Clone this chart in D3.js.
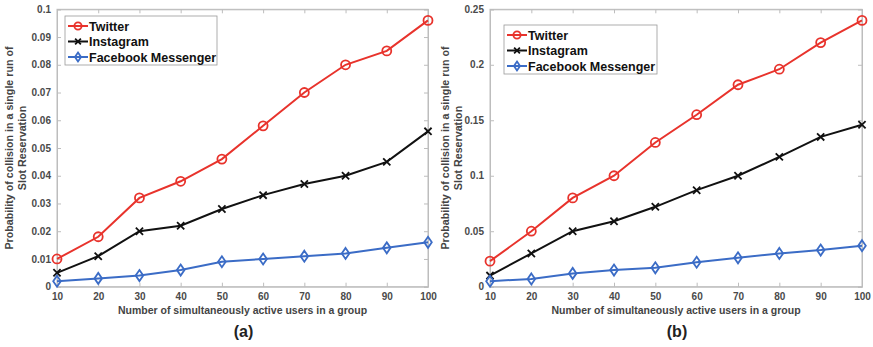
<!DOCTYPE html>
<html><head><meta charset="utf-8">
<script src="https://cdn.jsdelivr.net/npm/d3@7"></script>
<style>
body{margin:0;background:#fff;}
svg{display:block;font-family:"Liberation Sans",Arial,sans-serif;}
</style></head>
<body><svg id="c" width="873" height="347"></svg>
<script>
const xValues = [10,20,30,40,50,60,70,80,90,100];
const seriesNames = ["Twitter","Instagram","Facebook Messenger"];
const twitterA = [0.010,0.018,0.032,0.038,0.046,0.058,0.070,0.080,0.085,0.096];
const instagramA = [0.005,0.011,0.020,0.022,0.028,0.033,0.037,0.040,0.045,0.056];
const messengerA = [0.002,0.003,0.004,0.006,0.009,0.010,0.011,0.012,0.014,0.016];
const twitterB = [0.023,0.050,0.080,0.100,0.130,0.155,0.182,0.196,0.220,0.240];
const instagramB = [0.010,0.030,0.050,0.059,0.072,0.087,0.100,0.117,0.135,0.146];
const messengerB = [0.005,0.007,0.012,0.015,0.017,0.022,0.026,0.030,0.033,0.037];
const yTicksA = [0,0.01,0.02,0.03,0.04,0.05,0.06,0.07,0.08,0.09,0.1];
const yTicksB = [0,0.05,0.1,0.15,0.2,0.25];
const xLabel = "Number of simultaneously active users in a group";
const yLabel1 = "Probability of collision in a single run of";
const yLabel2 = "Slot Reservation";
const colors = ["#e8332c","#111111","#3b6cc6"];

const svg = d3.select("#c");

function panel(opt){
  const {x0,x1,yTop,yBot,yMax,yTicks,data,legend,ylabX,tag} = opt;
  const x = d3.scaleLinear().domain([10,100]).range([x0,x1]);
  const y = d3.scaleLinear().domain([0,yMax]).range([yBot,yTop]);
  const g = svg.append("g");
  g.append("rect").attr("x",x0).attr("y",yTop).attr("width",x1-x0).attr("height",yBot-yTop)
    .attr("fill","none").attr("stroke","#bdbdbd").attr("stroke-width",1);
  const fmt = v => v===0 ? "0" : String(+v.toFixed(3));
  const xa = g.append("g").attr("transform",`translate(0,${yBot})`)
    .call(d3.axisBottom(x).tickValues(xValues).tickSize(-4).tickPadding(6));
  const ya = g.append("g").attr("transform",`translate(${x0},0)`)
    .call(d3.axisLeft(y).tickValues(yTicks).tickFormat(fmt).tickSize(-4).tickPadding(6));
  const xt = g.append("g").attr("transform",`translate(0,${yTop})`)
    .call(d3.axisTop(x).tickValues(xValues).tickSize(-4).tickFormat(""));
  const yr = g.append("g").attr("transform",`translate(${x1},0)`)
    .call(d3.axisRight(y).tickValues(yTicks).tickSize(-4).tickFormat(""));
  [xa,ya,xt,yr].forEach(a=>{
    a.select(".domain").attr("stroke","#bdbdbd");
    a.selectAll(".tick line").attr("stroke","#bdbdbd");
    a.selectAll("text").attr("font-size",10).attr("font-weight","bold").attr("fill","#4a4a4a")
      .attr("font-family","'Liberation Sans',Arial,sans-serif");
  });
  const line = d3.line().x((d,i)=>x(xValues[i])).y(d=>y(d));
  data.forEach((vals,si)=>{
    g.append("path").datum(vals).attr("d",line).attr("fill","none")
      .attr("stroke",colors[si]).attr("stroke-width",2);
    const m = g.selectAll(null).data(vals).enter().append("g")
      .attr("transform",(d,i)=>`translate(${x(xValues[i])},${y(d)})`);
    marker(m,si);
  });
  const lg = g.append("g").attr("transform",`translate(${legend.x},${legend.y})`);
  lg.append("rect").attr("width",legend.w).attr("height",49).attr("fill","#fff").attr("stroke","#9a9a9a").attr("stroke-width",0.8);
  seriesNames.forEach((n,i)=>{
    const yy = 10 + i*15.5;
    lg.append("line").attr("x1",3).attr("x2",23).attr("y1",yy).attr("y2",yy)
      .attr("stroke",colors[i]).attr("stroke-width",2);
    marker(lg.append("g").attr("transform",`translate(13,${yy})`),i,0.8);
    lg.append("text").attr("x",24).attr("y",yy+4.5).text(n)
      .attr("font-size",12.5).attr("font-weight","bold").attr("fill","#111");
  });
  g.append("text").attr("x",(x0+x1)/2).attr("y",yBot+27).attr("text-anchor","middle")
    .attr("font-size",10.5).attr("font-weight","bold").attr("fill","#444").text(xLabel);
  const cy = (yTop+yBot)/2;
  g.append("text").attr("transform",`translate(${ylabX},${cy}) rotate(-90)`).attr("text-anchor","middle")
    .attr("font-size",10.7).attr("font-weight","bold").attr("fill","#444").text(yLabel1);
  g.append("text").attr("transform",`translate(${ylabX+13},${cy}) rotate(-90)`).attr("text-anchor","middle")
    .attr("font-size",10.7).attr("font-weight","bold").attr("fill","#444").text(yLabel2);
  g.append("text").attr("x",(x0+x1)/2+1).attr("y",yBot+50).attr("text-anchor","middle")
    .attr("font-size",16).attr("font-weight","bold").attr("fill","#222").text(tag);
}

function marker(sel,si,s=1){
  if(si===0){
    sel.append("circle").attr("r",4.5*s).attr("fill","none").attr("stroke",colors[0]).attr("stroke-width",1.8);
  } else if(si===1){
    const r=3.6*s;
    sel.append("path").attr("d",`M${-r},${-r}L${r},${r}M${-r},${r}L${r},${-r}`)
      .attr("stroke",colors[1]).attr("stroke-width",1.8).attr("fill","none");
  } else {
    const w=3.8*s,h=5.5*s;
    sel.append("path").attr("d",`M0,${-h}L${w},0L0,${h}L${-w},0Z`)
      .attr("fill","none").attr("stroke",colors[2]).attr("stroke-width",1.8);
  }
}

panel({x0:57,x1:428,yTop:9.3,yBot:286.7,yMax:0.1,yTicks:yTicksA,
  data:[twitterA,instagramA,messengerA],legend:{x:65,y:16,w:152},ylabX:13,tag:"(a)"});
panel({x0:490,x1:862,yTop:9.3,yBot:286.7,yMax:0.25,yTicks:yTicksB,
  data:[twitterB,instagramB,messengerB],legend:{x:504,y:25,w:153},ylabX:449,tag:"(b)"});
</script></body></html>
